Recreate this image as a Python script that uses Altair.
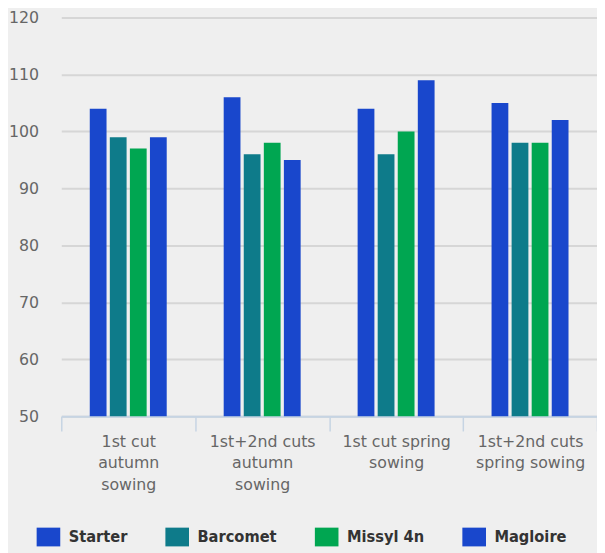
import altair as alt
import pandas as pd

categories = ["1st cut|autumn|sowing", "1st+2nd cuts|autumn|sowing",
              "1st cut spring|sowing", "1st+2nd cuts|spring sowing"]
series = ["Starter", "Barcomet", "Missyl 4n", "Magloire"]
colors = ["#1947cc", "#0e7b8a", "#00a651", "#1947cc"]
values = {
    "Starter":   [104, 106, 104, 105],
    "Barcomet":  [99, 96, 96, 98],
    "Missyl 4n": [97, 98, 100, 98],
    "Magloire":  [99, 95, 109, 102],
}
y_ticks = [50, 60, 70, 80, 90, 100, 110, 120]

rows = []
for s in series:
    for c, v in zip(categories, values[s]):
        rows.append({"category": c, "series": s, "value": v})
df = pd.DataFrame(rows)

offset_domain = ["_l"] + series + ["_r"]

bars = alt.Chart(df).mark_bar().encode(
    x=alt.X("category:N", sort=categories, title=None,
            scale=alt.Scale(paddingInner=0, paddingOuter=0),
            axis=alt.Axis(labelExpr="split(datum.label, '|')", labelAngle=0,
                          tickBand="extent", tickSize=15, tickWidth=1.5,
                          tickColor="#c6d4e3", domainColor="#c6d4e3", domainWidth=2,
                          labelFont="DejaVu Sans", labelFontSize=16, labelColor="#666666",
                          labelLineHeight=21.5, labelPadding=3, labelLimit=300,
                          grid=False)),
    xOffset=alt.XOffset("series:N",
                        scale=alt.Scale(domain=offset_domain, paddingInner=0.164,
                                        paddingOuter=0.42)),
    y=alt.Y("value:Q", title=None,
            scale=alt.Scale(domain=[50, 120], nice=False, zero=False),
            axis=alt.Axis(values=y_ticks, domain=False, ticks=False, grid=True,
                          gridColor="#d6d6d6", gridWidth=2,
                          labelFont="DejaVu Sans", labelFontSize=16, labelColor="#666666",
                          labelPadding=23)),
    y2=alt.datum(50),
    color=alt.Color("series:N", sort=series,
                    scale=alt.Scale(domain=series, range=colors),
                    legend=alt.Legend(title=None, orient="none", direction="horizontal",
                                      legendX=-22.5, legendY=517, padding=0,
                                      symbolType="M-1.26,-1L1.26,-1L1.26,1L-1.26,1Z",
                                      symbolSize=361, symbolStrokeWidth=0,
                                      symbolOpacity=1,
                                      labelFont="DejaVu Sans Condensed, DejaVu Sans",
                                      labelFontSize=16.5,
                                      labelFontWeight="bold", labelColor="#333333",
                                      labelOffset=11, columnPadding=37.5)),
).properties(
    width=543, height=404,
    autosize=alt.AutoSizeParams(type="none"),
    padding={"left": 54, "top": 6, "right": 0, "bottom": 135},
).configure(background="#efefef").configure_view(stroke=None)

chart = bars
chart.save("out.html", embed_options={"renderer": "svg", "actions": False})
